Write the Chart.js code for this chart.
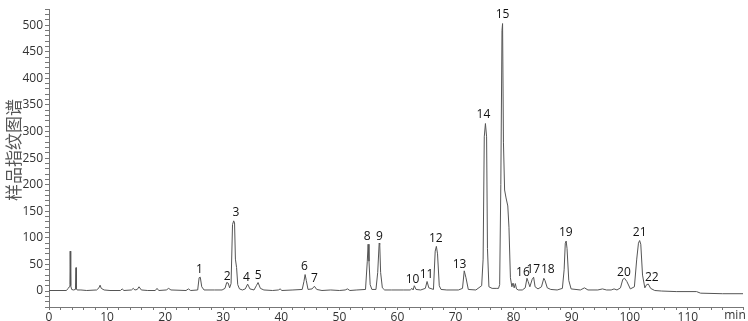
<!DOCTYPE html>
<html>
<head>
<meta charset="utf-8">
<script src="https://cdn.jsdelivr.net/npm/chart.js@4/dist/chart.umd.min.js"></script>
<style>
  html, body { margin: 0; padding: 0; background: #fff; }
  #wrap { width: 748px; height: 321px; }
</style>
</head>
<body>
<div id="wrap"><canvas id="chart"></canvas></div>
<script>
// Retention time (min) and signal
const times = [
  0, 3.0, 3.3, 3.5, 3.6, 3.65, 3.7, 3.78, 3.9, 4.2, 4.55, 4.65, 4.72, 4.85, 5.5, 6.5, 8.2, 8.6, 8.8, 9.0, 9.5,
  10.5, 12.3, 12.6, 12.9, 14.2, 14.5, 14.8, 15.2, 15.5, 15.9, 17, 18.3, 18.6, 18.9, 20.2, 20.6, 21.0, 23.6, 24.0, 24.4, 25.6, 25.85, 26.05, 26.3, 26.7, 28.5,
  29.8, 30.3, 30.6, 30.85, 31.1, 31.35, 31.6, 31.8, 31.95, 32.1, 32.3, 32.5, 32.8, 33.3, 33.8, 34.2, 34.6, 35.3, 35.7, 36.0, 36.4, 37.0, 38.5, 39.5, 39.8, 40.1,
  42, 43.6, 43.9, 44.1, 44.3, 44.6, 45.3, 45.7, 46.1, 47, 48.5, 50, 51, 51.4, 51.8, 53, 54.5, 54.8, 54.95, 55.1, 55.3, 55.6, 56.3, 56.6, 56.85, 56.95, 57.1, 57.4, 57.8, 59,
  61, 62.2, 62.5, 62.7, 62.9, 63.2, 64, 64.8, 65.1, 65.4, 66.2, 66.5, 66.7, 66.9, 67.2, 67.5, 68.5, 70.5, 71.2, 71.5, 71.8, 72.2, 73.5, 74.5, 74.75, 74.95, 75.15, 75.35, 75.5, 75.75, 76.3, 77.0,
  77.4, 77.6, 77.8, 78.0, 78.1, 78.25, 78.45, 78.7, 79.0, 79.2, 79.45, 79.7, 79.9, 80.1, 80.3, 80.5, 80.8, 81.5, 82.0, 82.3, 82.5, 82.8, 83.2, 83.45, 83.7, 84.2, 84.8, 85.2, 85.4, 85.8, 86.4, 87.5, 88.4, 88.7, 88.9, 89.05, 89.2, 89.5, 89.9,
  91.5, 92.2, 92.8, 94.5, 95.3, 96, 96.8, 97.3, 97.8, 98.4, 98.8, 99.1, 99.5, 100.1, 100.8, 101.2, 101.5, 101.7, 101.9, 102.2, 102.6, 102.9, 103.2, 103.6, 104.3, 105.5, 108, 111.5, 112.2, 116, 119.5
];
const signal = [
  1, 1, 5, 8, 12, 75, 12, 10, 3, 2, 3, 44, 4, 2, 2, 1, 2, 6, 11, 5, 2,
  1, 1, 4, 1, 2, 5, 2, 3, 8, 2, 1, 1, 5, 1, 2, 5, 2, 1, 4, 1, 2, 25, 26, 8, 2, 2,
  2, 5, 16, 15, 6, 14, 125, 132, 128, 60, 44, 12, 4, 2, 4, 13, 4, 2, 10, 16, 5, 2, 1, 2, 4, 1,
  2, 3, 18, 31, 20, 3, 4, 9, 3, 1, 2, 1, 2, 4, 1, 2, 3, 55, 88, 56, 12, 3, 3, 35, 90, 88, 35, 6, 2, 2,
  2, 2, 5, 2, 10, 3, 2, 5, 18, 6, 3, 75, 84, 70, 10, 3, 2, 2, 5, 38, 25, 3, 2, 10, 60, 290, 315, 290, 80, 8, 5, 5,
  5, 12, 200, 490, 503, 280, 190, 175, 160, 120, 25, 8, 15, 6, 14, 4, 2, 2, 6, 24, 18, 8, 22, 26, 8, 4, 8, 24, 20, 6, 3, 2, 5, 40, 90, 94, 80, 20, 4,
  2, 6, 2, 2, 4, 2, 2, 4, 2, 6, 22, 24, 18, 4, 8, 60, 90, 95, 88, 30, 6, 12, 13, 5, 1, 0, -1, -1, -4, -5, -5
];

// Peak numbers and where their labels sit (time, signal level)
const peakNames = ['1','2','3','4','5','6','7','8','9','10','11','12','13','14','15','16','17','18','19','20','21','22'];
const peakTimes = [25.9, 30.7, 32.2, 34.0, 36.0, 44.0, 45.7, 54.8, 56.9, 62.6, 65.0, 66.6, 70.7, 74.8, 78.1, 81.6, 83.4, 85.9, 89.0, 99.0, 101.7, 103.8];
const peakLevels = [40, 27, 147, 26, 29, 46, 24, 103, 103, 22, 31, 99, 50, 332, 519, 35, 40, 40, 110, 35, 110, 26];

const yTitle = '样品指纹图谱';
const xUnit = 'min';

// Peak labels, unit text and the y title
const peakLabels = {
    id: 'peakLabels',
    afterDatasetsDraw(chart) {
        const ctx = chart.ctx;
        const x = chart.scales.x;
        const y = chart.scales.y;
        ctx.save();
        ctx.fillStyle = '#111';
        ctx.font = '12px "Open Sans", sans-serif';
        ctx.textAlign = 'center';
        ctx.textBaseline = 'middle';
        peakNames.forEach((name, i) => {
            ctx.fillText(name, x.getPixelForValue(peakTimes[i]), y.getPixelForValue(peakLevels[i]));
        });
        ctx.fillStyle = '#333';
        ctx.textBaseline = 'top';
        ctx.fillText(xUnit, x.right - 8, x.top + 3);

        // y title, a bit above the middle like the original
        ctx.translate(14, y.getPixelForValue(265));
        ctx.rotate(-Math.PI / 2);
        ctx.fillStyle = '#555';
        ctx.font = '17px "Noto Sans CJK SC", sans-serif';
        ctx.textBaseline = 'middle';
        ctx.fillText(yTitle, 0, 0);
        ctx.restore();
    }
};

const ctx = document.getElementById('chart').getContext('2d');
new Chart(ctx, {
    type: 'line',
    data: {
        datasets: [{
            data: times.map((t, i) => ({ x: t, y: signal[i] })),
            borderColor: '#555',
            borderWidth: 1,
            pointRadius: 0,
            fill: false,
            tension: 0
        }]
    },
    options: {
        responsive: true,
        maintainAspectRatio: false,
        animation: false,
        layout: { padding: { top: 2, right: 5, bottom: 0, left: 0 } },
        plugins: {
            legend: { display: false },
            tooltip: { enabled: false }
        },
        scales: {
            x: {
                type: 'linear',
                min: 0,
                max: 119.5,
                afterFit: scale => { scale.height = 14; },
                border: { color: '#777', width: 1 },
                grid: { drawOnChartArea: false, tickLength: 3, color: '#777' },
                ticks: {
                    stepSize: 2,
                    autoSkip: false,
                    maxRotation: 0,
                    padding: 0,
                    color: '#333',
                    font: { family: 'Open Sans', size: 12 },
                    callback: v => (v % 10 === 0 && v <= 110) ? v : ''
                }
            },
            y: {
                min: -30,
                max: 530,
                afterFit: scale => { scale.width = 49; },
                border: { color: '#777', width: 1 },
                grid: { drawOnChartArea: false, tickLength: 4, color: '#777' },
                ticks: {
                    stepSize: 10,
                    autoSkip: false,
                    padding: 2,
                    color: '#333',
                    font: { family: 'Open Sans', size: 12 },
                    callback: v => (v % 50 === 0) ? v : ''
                }
            }
        }
    },
    plugins: [peakLabels]
});
</script>
</body>
</html>
